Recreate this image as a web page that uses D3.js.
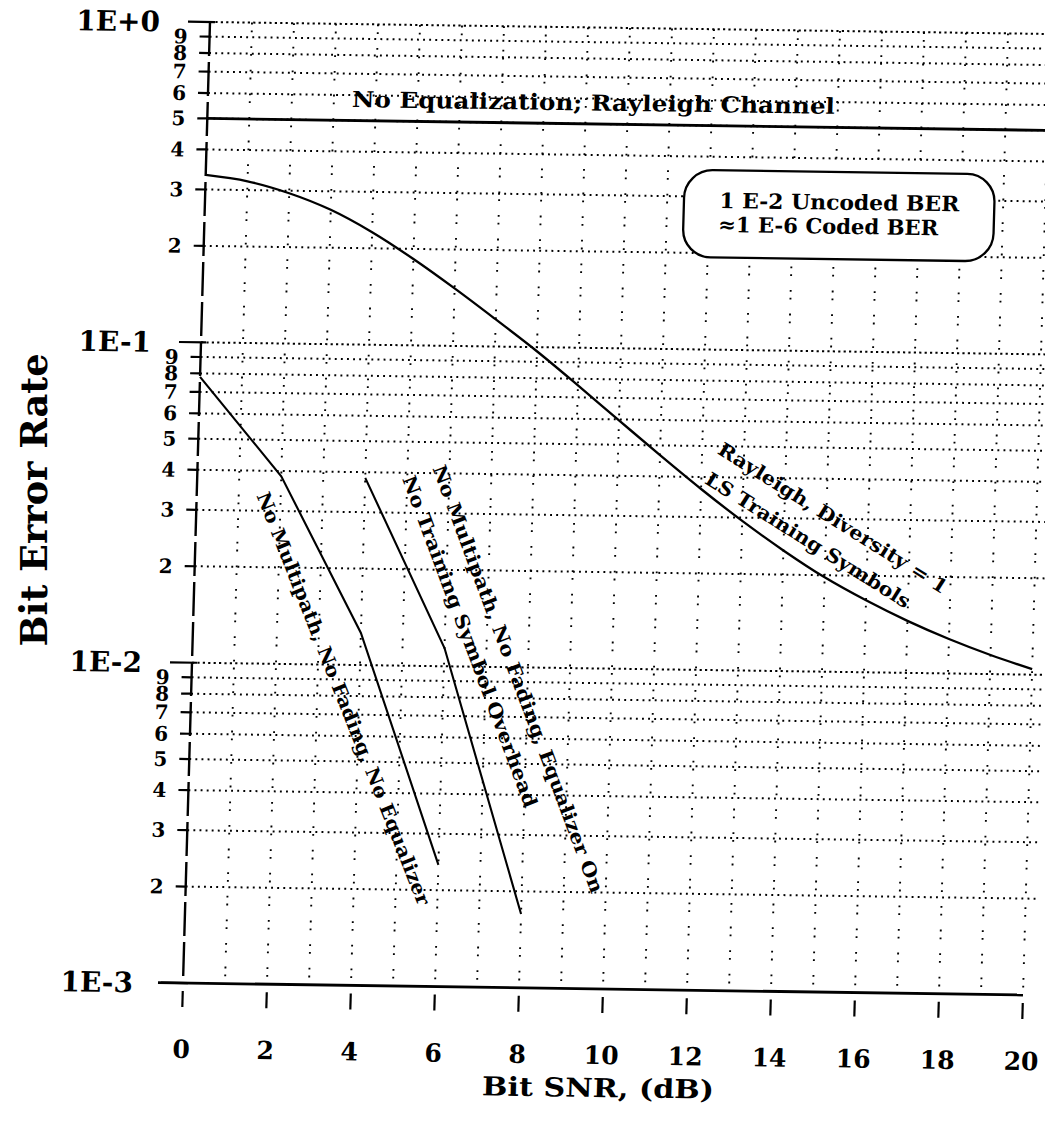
<!DOCTYPE html>
<html><head><meta charset="utf-8">
<script src="https://cdn.jsdelivr.net/npm/d3@7"></script>
<style>
body{margin:0;background:#fff}
svg{display:block}
text{font-family:"DejaVu Serif",serif;font-weight:bold;fill:#000}
</style>
</head><body>
<svg id="c" width="1045" height="1121"></svg>
<script>
// ---------- data ----------
const xTickValues = [0,2,4,6,8,10,12,14,16,18,20];
const xTickLabels = ["0","2","4","6","8","10","12","14","16","18","20"];
const yMajorValues = [1, 0.1, 0.01, 0.001];
const yMajorLabels = ["1E+0","1E-1","1E-2","1E-3"];

// No equalization, Rayleigh channel (flat at 0.5)
const noEqSNR = [0, 20.4];
const noEqBER = [0.5, 0.5];
// Rayleigh, Diversity = 1, LS training symbols
const raySNR = [0,1,2,3,4,5,6,7,8,9,10,11,12,13,14,15,16,17,18,19,20];
const rayBER = [0.333,0.3195,0.2946,0.2626,0.2245,0.186,0.1512,0.1215,0.0971,0.0763,0.0596,0.0466,0.0367,0.0293,0.0238,0.0197,0.01677,0.01453,0.01281,0.01147,0.01041];
// No multipath, no fading, no equalizer
const awgnSNR = [0,2,4,6];
const awgnBER = [0.078,0.0385,0.0126,0.0024];
// No multipath, no fading, equalizer on, no training symbol overhead
const eqSNR = [4,6,8];
const eqBER = [0.0384,0.0114,0.0017];

const xTitle = "Bit SNR, (dB)";
const yTitle = "Bit Error Rate";

// ---------- drawing ----------
const svg = d3.select("#c");
const W = 840, H = 961;
const x = d3.scaleLinear().domain([0,20]).range([0,W]);
const y = d3.scaleLog().domain([1,1e-3]).range([0,H]);
// slight skew of the scanned original
const g = svg.append("g").attr("transform","matrix(1,0.01429,-0.0281,1,210,22)");

const allY = y.ticks();
const isMajor = v => Math.abs(Math.log10(v) - Math.round(Math.log10(v))) < 1e-9;
const gridRight = x(20.25);

// horizontal dotted grid
g.append("g").selectAll("line").data(allY.filter(v => v > 1.001e-3)).join("line")
  .attr("x1",0).attr("x2",gridRight)
  .attr("y1",d=>y(d)).attr("y2",d=>y(d))
  .attr("stroke","#000").attr("stroke-width",2)
  .attr("stroke-dasharray", d => isMajor(d) ? "2.2 3.2" : "1.9 4.2");

// vertical dotted grid (every dB)
g.append("g").selectAll("line").data(x.ticks(20).filter(d=>d>0)).join("line")
  .attr("x1",d=>x(d)).attr("x2",d=>x(d)).attr("y1",0).attr("y2",H)
  .attr("stroke","#000").attr("stroke-width",1.9)
  .attr("stroke-dasharray","1.8 6 1.8 14");

// y axis (broken line)
g.append("line").attr("x1",0).attr("x2",0).attr("y1",y(1)).attr("y2",y(1e-3))
  .attr("stroke","#000").attr("stroke-width",2.4).attr("stroke-dasharray","34 6");
// y ticks
g.append("g").selectAll("line").data(allY).join("line")
  .attr("x1",d=>isMajor(d)?-22:-10).attr("x2",d=>isMajor(d)?5:0)
  .attr("y1",d=>y(d)).attr("y2",d=>y(d))
  .attr("stroke","#000").attr("stroke-width",2.2);
// y major labels
g.append("g").selectAll("text").data(yMajorValues).join("text")
  .attr("x",-50).attr("y",d=>y(d)).attr("dy","0.36em")
  .attr("text-anchor","end").style("font-size","28px")
  .text((d,i)=>yMajorLabels[i]);
// y minor digit labels
g.append("g").selectAll("text").data(allY.filter(v=>!isMajor(v))).join("text")
  .attr("x",-22).attr("y",d=>y(d)).attr("dy","0.36em")
  .attr("text-anchor","end").style("font-size","20px")
  .text(d=>String(Math.round(d/Math.pow(10,Math.floor(Math.log10(d)+1e-9)))));

// x axis
g.append("line").attr("x1",-25).attr("x2",W).attr("y1",y(1e-3)).attr("y2",y(1e-3))
  .attr("stroke","#000").attr("stroke-width",2.8);
g.append("g").selectAll("line").data(xTickValues).join("line")
  .attr("x1",d=>x(d)).attr("x2",d=>x(d)).attr("y1",H+8).attr("y2",H+24)
  .attr("stroke","#000").attr("stroke-width",2.2);
g.append("g").selectAll("text").data(xTickValues).join("text")
  .attr("x",d=>x(d)).attr("y",H+75).attr("text-anchor","middle")
  .style("font-size","25px").text((d,i)=>xTickLabels[i]);
g.append("text").attr("x",x(9.95)).attr("y",H+108).attr("text-anchor","middle")
  .style("font-size","26px").attr("textLength",232).attr("lengthAdjust","spacingAndGlyphs")
  .text(xTitle);

// y title
svg.append("text").attr("transform","translate(47,500) rotate(-90)")
  .attr("text-anchor","middle").style("font-size","38px")
  .attr("textLength",293).attr("lengthAdjust","spacingAndGlyphs").text(yTitle);

// curves
const zip = (a,b) => a.map((v,i)=>[v,b[i]]);
const lin = d3.line().x(d=>x(d[0])).y(d=>y(d[1]));
const smooth = d3.line().x(d=>x(d[0])).y(d=>y(d[1])).curve(d3.curveCatmullRom);
g.append("path").datum(zip(noEqSNR,noEqBER)).attr("d",lin)
  .attr("fill","none").attr("stroke","#000").attr("stroke-width",2.8);
g.append("path").datum(zip(raySNR,rayBER)).attr("d",smooth)
  .attr("fill","none").attr("stroke","#000").attr("stroke-width",2.3);
g.append("path").datum(zip(awgnSNR,awgnBER)).attr("d",lin)
  .attr("fill","none").attr("stroke","#000").attr("stroke-width",2.1);
g.append("path").datum(zip(eqSNR,eqBER)).attr("d",lin)
  .attr("fill","none").attr("stroke","#000").attr("stroke-width",2.1);

// annotations
g.append("text").attr("x",x(3.43)).attr("y",y(0.551))
  .style("font-size","22px").attr("textLength",483).attr("lengthAdjust","spacingAndGlyphs")
  .text("No Equalization; Rayleigh Channel");

const bx0 = x(11.4), bx1 = x(18.79), by0 = y(0.363), by1 = y(0.194);
g.append("rect").attr("x",bx0).attr("y",by0).attr("width",bx1-bx0).attr("height",by1-by0)
  .attr("rx",28).attr("ry",28).attr("fill","#fff").attr("stroke","#000").attr("stroke-width",2.3);
g.append("text").attr("x",x(15.1)).attr("y",y(0.277)).attr("text-anchor","middle")
  .style("font-size","21px").attr("textLength",240).attr("lengthAdjust","spacingAndGlyphs")
  .text("1 E-2 Uncoded BER");
g.append("text").attr("x",x(14.85)).attr("y",y(0.233)).attr("text-anchor","middle")
  .style("font-size","21px").attr("textLength",220).attr("lengthAdjust","spacingAndGlyphs")
  .text("≈1 E-6 Coded BER");

const rotLabels = [
  {t:"Rayleigh, Diversity = 1", sx:15.16, sy:0.0302, a:31, len:268},
  {t:"LS Training Symbols", sx:14.58, sy:0.0257, a:31, len:239},
  {t:"No Multipath, No Fading, No Equalizer", sx:3.63, sy:0.00785, a:67, len:444},
  {t:"No Multipath, No Fading, Equalizer On", sx:7.77, sy:0.0092, a:68, len:457},
  {t:"No Training Symbol Overhead", sx:6.60, sy:0.01198, a:68, len:354}
];
g.append("g").selectAll("text").data(rotLabels).join("text")
  .attr("transform",d=>`translate(${x(d.sx)},${y(d.sy)}) rotate(${d.a})`)
  .attr("text-anchor","middle").attr("dy","0.35em").style("font-size","19px")
  .attr("textLength",d=>d.len).attr("lengthAdjust","spacingAndGlyphs")
  .text(d=>d.t);
</script>
</body></html>
